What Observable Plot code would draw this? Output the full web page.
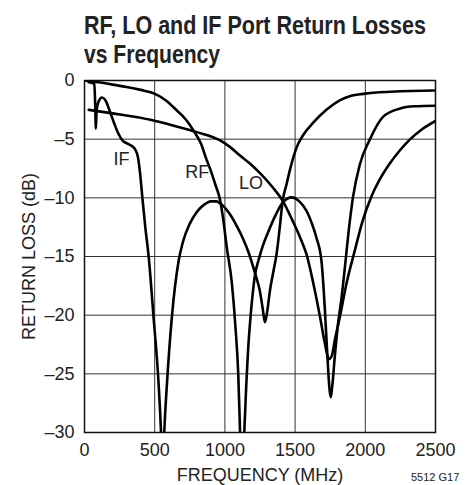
<!DOCTYPE html>
<html><head><meta charset="utf-8">
<script src="https://cdn.jsdelivr.net/npm/d3@7"></script>
<script src="https://cdn.jsdelivr.net/npm/@observablehq/plot@0.6"></script>
<style>
body{margin:0;background:#fff;}
#wrap{position:relative;width:469px;height:485px;overflow:hidden;font-family:"Liberation Sans Narrow","Arial Narrow","Liberation Sans",Arial,sans-serif;color:#222;}
#title{position:absolute;left:84px;top:11px;font-weight:bold;font-size:26px;line-height:29px;white-space:nowrap;}
#title div{transform-origin:0 50%;width:max-content;}
#code{position:absolute;left:411px;top:471px;font-size:11px;white-space:nowrap;}
#chart{position:absolute;left:0;top:0;}
</style></head><body>
<div id="wrap"><div id="chart"></div>
<div id="title"><div id="t1">RF, LO and IF Port Return Losses</div><div id="t2">vs Frequency</div></div>
<div id="code">5512 G17</div></div>
<script>
const xTicks = [0, 500, 1000, 1500, 2000, 2500];
const yTicks = [0, -5, -10, -15, -20, -25, -30];
const xGrid = [500, 1000, 1500, 2000];
const yGrid = [-5, -10, -15, -20, -25];

const ifFreq = [30, 50, 70, 76, 81, 86, 100, 125, 150, 180, 210, 240, 270, 310, 340, 362, 380, 395, 410, 433, 457, 492, 528, 545, 556, 568, 587, 622, 670, 700, 750, 800, 850, 900, 940, 980, 1030, 1080, 1130, 1170, 1214, 1250, 1270, 1285, 1300, 1321, 1345, 1368, 1390, 1411, 1440, 1470, 1511, 1560, 1629, 1723, 1818, 1900, 1984, 2100, 2250, 2400, 2500];
const ifDb = [-0.15, -0.2, -0.3, -2.0, -4.1, -2.6, -1.8, -1.45, -1.7, -2.6, -3.6, -4.5, -5.1, -5.4, -5.6, -5.9, -6.5, -7.8, -9.7, -12.5, -15.0, -20.2, -25.9, -30, -34, -30, -25.9, -20.2, -15.4, -13.8, -12.2, -11.2, -10.6, -10.3, -10.3, -10.6, -11.3, -12.3, -13.5, -14.7, -16.4, -18.0, -19.5, -20.6, -19.8, -17.9, -16.3, -14.8, -12.6, -10.3, -8.8, -7.3, -5.7, -4.6, -3.6, -2.5, -1.7, -1.3, -1.14, -1.0, -0.92, -0.87, -0.85];

const rfFreq = [0, 100, 200, 300, 400, 502, 580, 658, 720, 777, 830, 871, 900, 930, 966, 990, 1013, 1048, 1075, 1095, 1108, 1122, 1138, 1152, 1165, 1180, 1197, 1214, 1240, 1270, 1309, 1360, 1411, 1475, 1530, 1581, 1620, 1652, 1688, 1712, 1730, 1745, 1754, 1765, 1783, 1805, 1830, 1854, 1880, 1913, 1960, 2031, 2126, 2244, 2350, 2500];
const rfDb = [0, -0.15, -0.35, -0.55, -0.8, -1.14, -1.7, -2.56, -3.3, -4.27, -5.4, -6.8, -7.7, -8.8, -10.2, -12.0, -14.2, -17.1, -21.0, -25.0, -30, -35, -30, -26, -23, -20.5, -18.3, -16.6, -15.3, -14.1, -12.9, -11.5, -10.4, -9.96, -10.3, -11.1, -12.2, -13.4, -15.4, -19.5, -23.5, -26.3, -27.0, -26.0, -23.5, -20.8, -18.6, -16.0, -13.0, -9.9, -7.2, -5.06, -3.1, -2.4, -2.2, -2.15];

const loFreq = [30, 200, 469, 650, 800, 966, 1040, 1108, 1180, 1250, 1340, 1411, 1480, 1540, 1581, 1630, 1680, 1712, 1740, 1760, 1785, 1818, 1866, 1925, 1980, 2043, 2100, 2173, 2250, 2315, 2400, 2500];
const loDb = [-2.5, -2.8, -3.35, -3.9, -4.4, -5.1, -5.7, -6.4, -7.1, -7.9, -9.1, -10.24, -11.9, -13.5, -14.8, -17.3, -20.3, -22.4, -23.75, -23.5, -22.0, -20.2, -17.3, -14.5, -12.0, -9.9, -8.5, -7.1, -5.9, -5.06, -4.2, -3.45];

const labelText = ["IF", "RF", "LO"];
const labelFreq = [263, 803, 1186];
const labelDb = [-6.74, -7.85, -8.79];

const rows = [
  ...ifFreq.map((f, i) => ({port: "IF", f, db: ifDb[i]})),
  ...rfFreq.map((f, i) => ({port: "RF", f, db: rfDb[i]})),
  ...loFreq.map((f, i) => ({port: "LO", f, db: loDb[i]}))
];
const labels = labelText.map((t, i) => ({t, f: labelFreq[i], db: labelDb[i]}));

const fam = '"Liberation Sans Narrow","Arial Narrow","Liberation Sans",Arial,sans-serif';
const chart = Plot.plot({
  width: 469, height: 485,
  marginLeft: 84, marginRight: 34, marginTop: 80, marginBottom: 53,
  style: {fontFamily: fam, fontSize: "18px", color: "#222", background: "white"},
  x: {domain: [0, 2500], ticks: xTicks, tickSize: 0, tickPadding: 11, tickFormat: d => String(d), label: "FREQUENCY (MHz)", labelAnchor: "center", labelOffset: 48, labelArrow: "none"},
  y: {domain: [-30, 0], ticks: yTicks, tickSize: 0, tickPadding: 10, tickFormat: d => d < 0 ? "\u2013" + (-d) : String(d), label: "RETURN LOSS (dB)", labelAnchor: "center", labelOffset: 62, labelArrow: "none"},
  marks: [
    Plot.gridX(xGrid, {stroke: "#333", strokeOpacity: 1, strokeWidth: 1}),
    Plot.gridY(yGrid, {stroke: "#333", strokeOpacity: 1, strokeWidth: 1}),
    Plot.frame({stroke: "#111", strokeWidth: 1.5}),
    Plot.line(rows, {x: "f", y: "db", z: "port", stroke: "#000", strokeWidth: 2.6, curve: "monotone-x", clip: true}),
    Plot.text(labels, {x: "f", y: "db", text: "t", fontSize: 18, fill: "#222"})
  ]
});
document.getElementById("chart").appendChild(chart);

function fit(id, w) {
  const el = document.getElementById(id);
  const cur = el.getBoundingClientRect().width;
  if (cur > 0) el.style.transform = `scaleX(${w / cur})`;
}
fit("t1", 342);
fit("t2", 136);
</script>
</body></html>
